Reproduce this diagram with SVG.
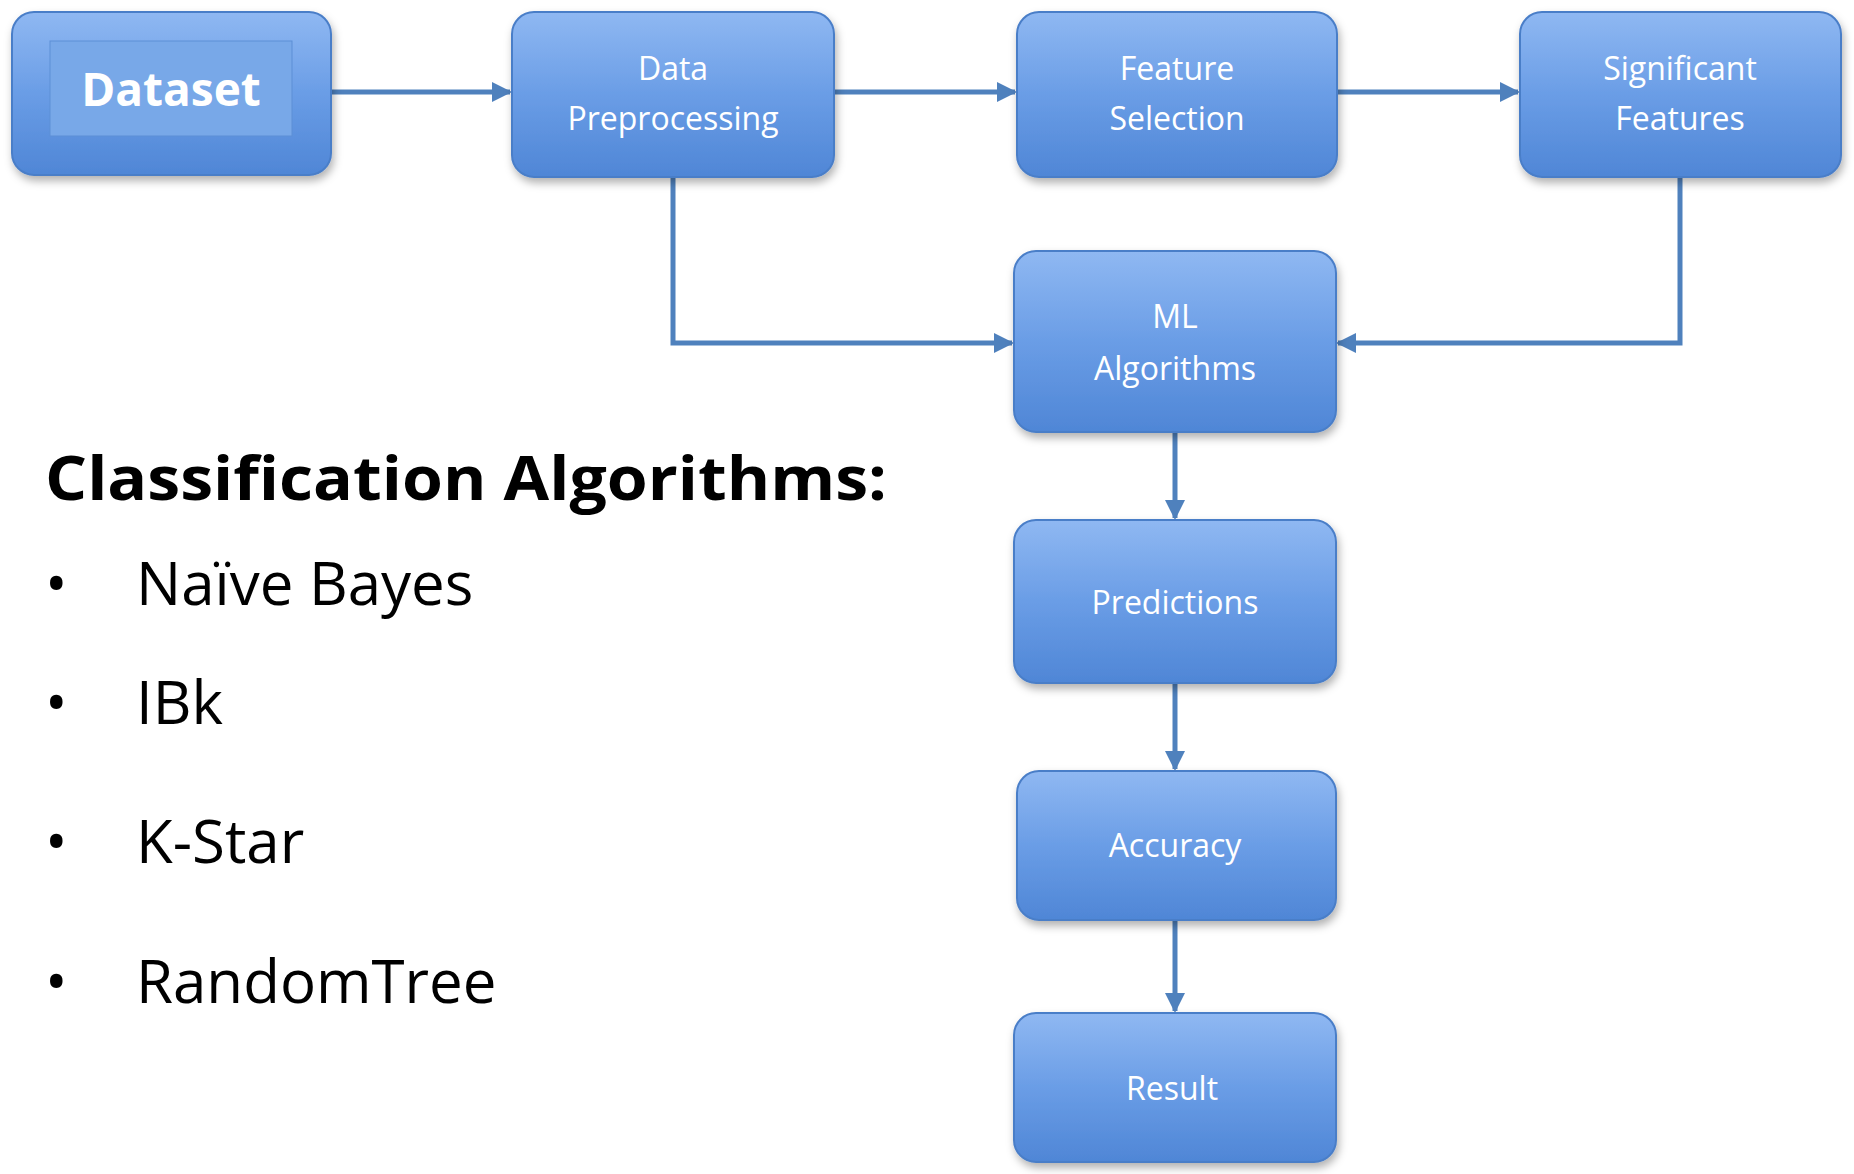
<svg xmlns="http://www.w3.org/2000/svg" width="1854" height="1174" viewBox="0 0 1854 1174">
<defs>
<linearGradient id="g" x1="0" y1="0" x2="0" y2="1"><stop offset="0" stop-color="#8fb8f2"/><stop offset="0.5" stop-color="#6a9de6"/><stop offset="1" stop-color="#4f86d6"/></linearGradient>
<filter id="sh" x="-10%" y="-10%" width="125%" height="130%"><feDropShadow dx="2" dy="5" stdDeviation="4" flood-color="#000" flood-opacity="0.3"/></filter>
<marker id="a" viewBox="0 0 10 10" refX="9" refY="5" markerWidth="4" markerHeight="4" orient="auto"><path d="M0,0L10,5L0,10z" fill="#4f81bd"/></marker>
</defs>
<style>
.b{fill:url(#g);stroke:#4a7ec8;stroke-width:2;filter:url(#sh)}
.t{font-family:"Open Sans","Liberation Sans",sans-serif;font-size:32px;fill:#fff;text-anchor:middle}
.c{fill:none;stroke:#4f81bd;stroke-width:5;marker-end:url(#a)}
.l{font-family:"Open Sans","Liberation Sans",sans-serif;font-size:60px;fill:#000}
</style>
<rect width="1854" height="1174" fill="#fff"/>
<g id="connectors">
<path class="c" d="M331,92H510"/>
<path class="c" d="M834,92H1015"/>
<path class="c" d="M1337,92H1518"/>
<path class="c" d="M673,177V343H1012"/>
<path class="c" d="M1680,177V343H1338"/>
<path class="c" d="M1175,432V518"/>
<path class="c" d="M1175,683V769"/>
<path class="c" d="M1175,920V1011"/>
</g>
<g id="dataset"><rect class="b" x="12" y="12" width="319" height="163" rx="22"/><rect x="50" y="41" width="242" height="95" fill="#78a8e8" stroke="#5c8fd6"/><text x="171" y="106" class="t" style="font-size:46px;font-weight:bold">Dataset</text></g>
<g id="preprocessing"><rect class="b" x="512" y="12" width="322" height="165" rx="22"/><text x="673" y="80" class="t">Data</text><text x="673" y="130" class="t">Preprocessing</text></g>
<g id="featsel"><rect class="b" x="1017" y="12" width="320" height="165" rx="22"/><text x="1177" y="80" class="t">Feature</text><text x="1177" y="130" class="t">Selection</text></g>
<g id="sigfeat"><rect class="b" x="1520" y="12" width="321" height="165" rx="22"/><text x="1680" y="80" class="t">Significant</text><text x="1680" y="130" class="t">Features</text></g>
<g id="ml"><rect class="b" x="1014" y="251" width="322" height="181" rx="22"/><text x="1175" y="328" class="t">ML</text><text x="1175" y="380" class="t">Algorithms</text></g>
<g id="pred"><rect class="b" x="1014" y="520" width="322" height="163" rx="22"/><text x="1175" y="614" class="t">Predictions</text></g>
<g id="acc"><rect class="b" x="1017" y="771" width="319" height="149" rx="22"/><text x="1175" y="857" class="t">Accuracy</text></g>
<g id="result"><rect class="b" x="1014" y="1013" width="322" height="149" rx="22"/><text x="1172" y="1100" class="t">Result</text></g>
<g id="list">
<text x="45" y="500" class="l" style="font-weight:bold" textLength="842" lengthAdjust="spacingAndGlyphs">Classification Algorithms:</text>
<text x="45" y="605" class="l">•</text><text x="136" y="605" class="l">Naïve Bayes</text>
<text x="45" y="724" class="l">•</text><text x="136" y="724" class="l">IBk</text>
<text x="45" y="863" class="l">•</text><text x="136" y="863" class="l">K-Star</text>
<text x="45" y="1003" class="l">•</text><text x="136" y="1003" class="l">RandomTree</text>
</g>
</svg>
